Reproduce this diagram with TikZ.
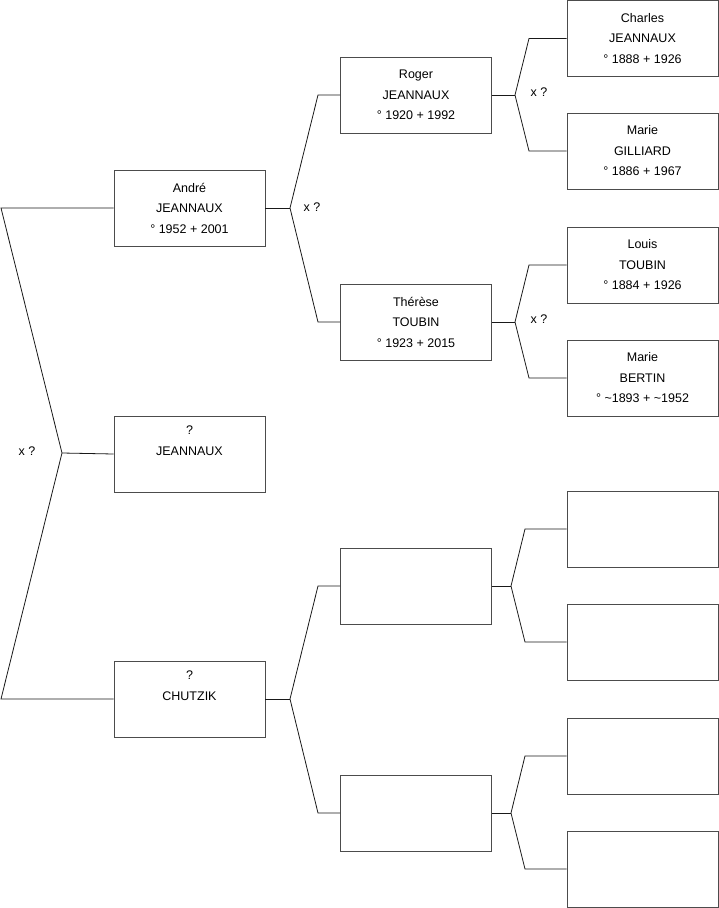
\documentclass[tikz,border=0pt]{standalone}
\usepackage{fontspec}
\setmainfont{Liberation Sans}
\begin{document}
\begin{tikzpicture}[x=1pt,y=-1pt,
  person/.style={draw=black!70,line width=0.8pt,minimum width=151pt,minimum height=76pt,inner sep=0pt,align=center,font=\fontsize{12.5}{20.5}\selectfont},
  link/.style={draw=black!90,line width=0.8pt},
  lbl/.style={font=\fontsize{12.5}{15}\selectfont,inner sep=0pt}]
\useasboundingbox (0,0) rectangle (719,908);
% column 1
\node[person] (andre) at (189.5,208) {André\\JEANNAUX\\° 1952 + 2001};
\node[person] (jean) at (189.5,454) {?\\JEANNAUX\\\strut};
\node[person] (chutzik) at (189.5,699) {?\\CHUTZIK\\\strut};
% column 2
\node[person] (roger) at (416,95) {Roger\\JEANNAUX\\° 1920 + 1992};
\node[person] (therese) at (416,322) {Thérèse\\TOUBIN\\° 1923 + 2015};
\node[person] (e2a) at (416,586) {};
\node[person] (e2b) at (416,813) {};
% column 3
\node[person] (charles) at (642.5,38.5) {Charles\\JEANNAUX\\° 1888 + 1926};
\node[person] (gilliard) at (642.5,151) {Marie\\GILLIARD\\° 1886 + 1967};
\node[person] (louis) at (642.5,265) {Louis\\TOUBIN\\° 1884 + 1926};
\node[person] (bertin) at (642.5,378) {Marie\\BERTIN\\° \textasciitilde 1893 + \textasciitilde 1952};
\node[person] (e3a) at (642.5,529) {};
\node[person] (e3b) at (642.5,642) {};
\node[person] (e3c) at (642.5,756) {};
\node[person] (e3d) at (642.5,869) {};
% level 1 bracket
\coordinate (v1) at (62,453);
\coordinate (b1a) at (1,208);
\coordinate (b1b) at (1,699);
\draw[link] (andre.west) -- (b1a) -- (v1) -- (b1b) -- (chutzik.west);
\draw[link] (v1) -- (jean.west);
\node[lbl] (x1) at (27,451) {x ?};
% andre bracket
\coordinate (va) at (290,208);
\coordinate (ba1) at (318,95);
\coordinate (ba2) at (318,322);
\draw[link] (andre.east) -- (va);
\draw[link] (roger.west) -- (ba1) -- (va) -- (ba2) -- (therese.west);
\node[lbl] (x2) at (312,207) {x ?};
% chutzik bracket
\coordinate (vc) at (290,699);
\coordinate (bc1) at (318,586);
\coordinate (bc2) at (318,813);
\draw[link] (chutzik.east) -- (vc);
\draw[link] (e2a.west) -- (bc1) -- (vc) -- (bc2) -- (e2b.west);
% roger bracket
\coordinate (vr) at (515,95);
\coordinate (br1) at (529,38.5);
\coordinate (br2) at (529,151);
\draw[link] (roger.east) -- (vr);
\draw[link] (charles.west) -- (br1) -- (vr) -- (br2) -- (gilliard.west);
\node[lbl] (x3) at (539,92) {x ?};
% therese bracket
\coordinate (vt) at (515,322);
\coordinate (bt1) at (529,265);
\coordinate (bt2) at (529,378);
\draw[link] (therese.east) -- (vt);
\draw[link] (louis.west) -- (bt1) -- (vt) -- (bt2) -- (bertin.west);
\node[lbl] (x4) at (539,319) {x ?};
% empty brackets
\coordinate (vea) at (511,586);
\coordinate (bea1) at (525,529);
\coordinate (bea2) at (525,642);
\draw[link] (e2a.east) -- (vea);
\draw[link] (e3a.west) -- (bea1) -- (vea) -- (bea2) -- (e3b.west);
\coordinate (veb) at (511,813);
\coordinate (beb1) at (525,756);
\coordinate (beb2) at (525,869);
\draw[link] (e2b.east) -- (veb);
\draw[link] (e3c.west) -- (beb1) -- (veb) -- (beb2) -- (e3d.west);
\end{tikzpicture}
\end{document}
